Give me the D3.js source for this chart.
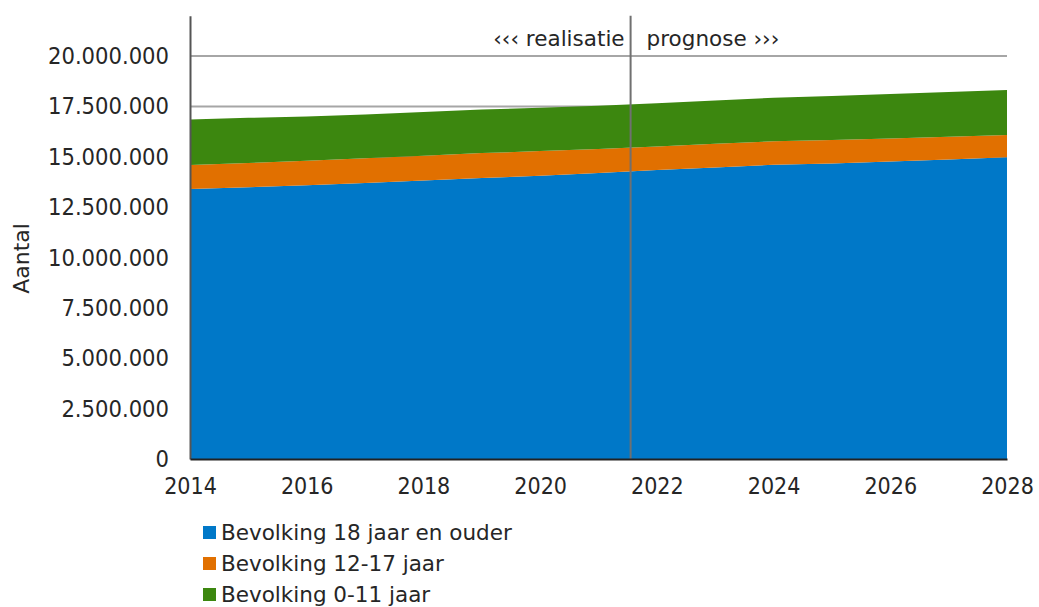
<!DOCTYPE html>
<html>
<head>
<meta charset="utf-8">
<script src="https://cdn.jsdelivr.net/npm/d3@7"></script>
<style>
  body { margin: 0; background: #fff; }
  svg { display: block; font-family: "DejaVu Sans", sans-serif; }
</style>
</head>
<body>
<div id="chart"></div>
<script>
// jaren en waarden (aantal personen)
const years = [2014, 2015, 2016, 2017, 2018, 2019, 2020, 2021, 2022, 2023, 2024, 2025, 2026, 2027, 2028];
const adults = [13400000, 13490000, 13590000, 13700000, 13820000, 13940000, 14060000, 14190000, 14340000, 14470000, 14600000, 14670000, 14760000, 14860000, 14970000];
const teens = [1190000, 1200000, 1210000, 1220000, 1230000, 1240000, 1220000, 1190000, 1170000, 1170000, 1170000, 1160000, 1150000, 1130000, 1110000];
const kids = [2260000, 2240000, 2200000, 2180000, 2170000, 2160000, 2150000, 2150000, 2150000, 2150000, 2160000, 2180000, 2200000, 2220000, 2230000];
const seriesNames = ['Bevolking 18 jaar en ouder', 'Bevolking 12-17 jaar', 'Bevolking 0-11 jaar'];
const colors = ['#0078c8', '#e17000', '#3c870f'];
const yTicks = [0, 2500000, 5000000, 7500000, 10000000, 12500000, 15000000, 17500000, 20000000];
const xTicks = [2014, 2016, 2018, 2020, 2022, 2024, 2026, 2028];
const splitYear = 2021.55;

const width = 1039, height = 607;
const margin = { top: 15.7, right: 32, bottom: 148, left: 190 };
const condensed = '"DejaVu Sans Condensed", "DejaVu Sans", sans-serif';

const svg = d3.select('#chart').append('svg')
  .attr('width', width)
  .attr('height', height);

const x = d3.scaleLinear()
  .domain([2014, 2028])
  .range([margin.left, width - margin.right]);
const y = d3.scaleLinear()
  .domain([0, 22000000])
  .range([height - margin.bottom, margin.top]);

// gestapelde data
const rows = years.map((yr, i) => ({ year: yr, a: adults[i], t: teens[i], k: kids[i] }));
const layers = d3.stack().keys(['a', 't', 'k'])(rows);

// rasterlijnen
svg.append('g')
  .selectAll('line')
  .data(yTicks.filter(d => d > 0))
  .join('line')
  .attr('x1', x(2014))
  .attr('x2', x(2028))
  .attr('y1', d => y(d))
  .attr('y2', d => y(d))
  .attr('stroke', '#a6a6a6')
  .attr('stroke-width', 2);

// vlakken
const area = d3.area()
  .x(d => x(d.data.year))
  .y0(d => y(d[0]))
  .y1(d => y(d[1]));

svg.append('g')
  .selectAll('path')
  .data(layers)
  .join('path')
  .attr('d', area)
  .attr('fill', (d, i) => colors[i]);

// scheidingslijn realisatie / prognose
svg.append('line')
  .attr('x1', x(splitYear))
  .attr('x2', x(splitYear))
  .attr('y1', y(22000000))
  .attr('y2', y(0))
  .attr('stroke', '#707070')
  .attr('stroke-width', 2);

svg.append('text')
  .attr('x', x(splitYear) - 6)
  .attr('y', 46)
  .attr('text-anchor', 'end')
  .attr('font-size', 21.5)
  .attr('fill', '#262626')
  .text('\u2039\u2039\u2039 realisatie');

svg.append('text')
  .attr('x', x(splitYear) + 16)
  .attr('y', 46)
  .attr('font-size', 21.5)
  .attr('fill', '#262626')
  .text('prognose \u203A\u203A\u203A');

// assen
const yAxis = svg.append('g')
  .attr('transform', `translate(${margin.left},0)`)
  .call(d3.axisLeft(y)
    .tickValues(yTicks)
    .tickSize(0)
    .tickPadding(21)
    .tickFormat(d => d3.format(',')(d).replace(/,/g, '.')));
yAxis.select('.domain').attr('stroke', '#555').attr('stroke-width', 2);
yAxis.selectAll('text')
  .attr('font-size', 23.5)
  .attr('font-family', condensed)
  .attr('fill', '#262626');

const xAxis = svg.append('g')
  .attr('transform', `translate(0,${height - margin.bottom})`)
  .call(d3.axisBottom(x)
    .tickValues(xTicks)
    .tickSize(0)
    .tickPadding(19)
    .tickFormat(d3.format('d')));
xAxis.select('.domain').attr('stroke', '#222').attr('stroke-width', 2);
xAxis.selectAll('text')
  .attr('font-size', 23)
  .attr('font-family', condensed)
  .attr('fill', '#262626');

// y-as titel
svg.append('text')
  .attr('transform', `translate(29,${y(10000000) + 1}) rotate(-90)`)
  .attr('text-anchor', 'middle')
  .attr('font-size', 22)
  .attr('fill', '#262626')
  .text('Aantal');

// legenda
const legend = svg.append('g')
  .attr('transform', 'translate(203,526)');
const item = legend.selectAll('g')
  .data(seriesNames)
  .join('g')
  .attr('transform', (d, i) => `translate(0,${i * 31})`);
item.append('rect')
  .attr('width', 13)
  .attr('height', 13)
  .attr('fill', (d, i) => colors[i]);
item.append('text')
  .attr('x', 18)
  .attr('y', 14)
  .attr('font-size', 21.5)
  .attr('fill', '#262626')
  .text(d => d);
</script>
</body>
</html>
